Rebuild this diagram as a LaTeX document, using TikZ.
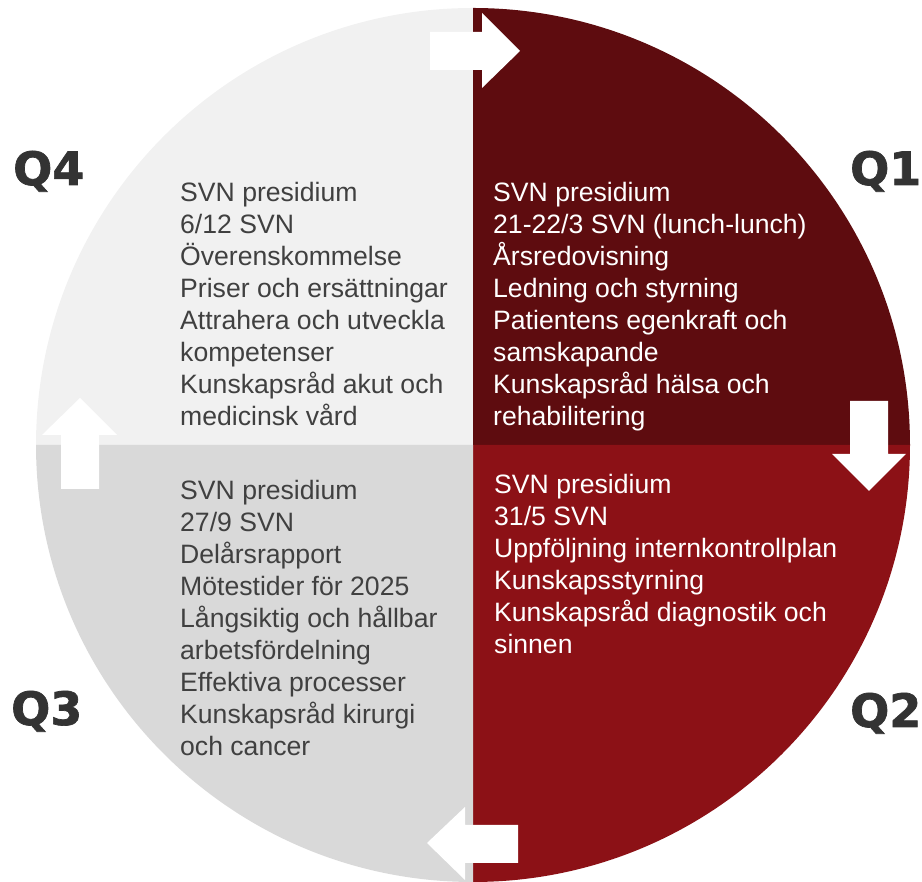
\documentclass[tikz,border=0pt]{standalone}
\usepackage{fontspec}
\setmainfont{Liberation Sans}
\newfontfamily\qfont[FakeBold=1.5]{DejaVu Sans}
\usetikzlibrary{positioning}
\definecolor{qone}{HTML}{5E0C0F}
\definecolor{qtwo}{HTML}{8C1116}
\definecolor{qthree}{HTML}{D9D9D9}
\definecolor{qfour}{HTML}{F1F1F1}
\definecolor{qdark}{HTML}{333333}
\definecolor{qtxt}{HTML}{404040}
\tikzset{
  qlabel/.style={ font=\qfont\bfseries\fontsize{46}{54}\selectfont, text=qdark, inner sep=0pt, anchor=base west }
}
\tikzset{
  qtext/.style={ font=\fontsize{26.6}{32}\selectfont, align=left, inner sep=0pt, anchor=north west }
}
\tikzset{
  turn/.style={ fill=white, draw=none }
}
\begin{document}
\begin{tikzpicture}[x=1pt, y=1pt]
      \useasboundingbox (0,0) rectangle (922,882);
      \coordinate (c) at (473,437);

      % the four quarters
      \fill[qfour] (c) -- ++(0,437) arc (90:180:437) -- cycle;
      \fill[qone] (c) -- ++(0,437) arc (90:0:437) -- cycle;
      \fill[qtwo] (c) -- ++(437,0) arc (0:-90:437) -- cycle;
      \fill[qthree] (c) -- ++(0,-437) arc (-90:-180:437) -- cycle;

      % arrows between the quarters
      \fill[turn] (430,812) -- (482,812) -- (482,794) -- (520,831) -- (482,869) -- (482,850) -- (430,850) -- cycle;
      \fill[turn] (850,481) -- (888,481) -- (888,428) -- (906,428) -- (869,391) -- (832,428) -- (850,428) -- cycle;
      \fill[turn] (518,57) -- (465,57) -- (465,75) -- (427,39) -- (465,2) -- (465,19) -- (518,19) -- cycle;
      \fill[turn] (61,393) -- (99,393) -- (99,447) -- (117,447) -- (80,484) -- (42,447) -- (61,447) -- cycle;

      \node[qlabel] (Q4) at (13,697) {Q4};
      \node[qlabel] (Q1) at (850,697) {Q1};
      \node[qlabel] (Q2) at (850,155) {Q2};
      \node[qlabel] (Q3) at (11,157) {Q3};

      \node[qtext, text=qtxt] (q4text) at (180,700) {SVN presidium\\6/12 SVN\\Överenskommelse\\Priser och ersättningar\\Attrahera och utveckla\\kompetenser\\Kunskapsråd akut och\\medicinsk vård};
      \node[qtext, text=white] (q1text) at (493,700) {SVN presidium\\21-22/3 SVN (lunch-lunch)\\Årsredovisning\\Ledning och styrning\\Patientens egenkraft och\\samskapande\\Kunskapsråd hälsa och\\rehabilitering};
      \node[qtext, text=white] (q2text) at (494,408) {SVN presidium\\31/5 SVN\\Uppföljning internkontrollplan\\Kunskapsstyrning\\Kunskapsråd diagnostik och\\sinnen};
      \node[qtext, text=qtxt] (q3text) at (180,402) {SVN presidium\\27/9 SVN\\Delårsrapport\\Mötestider för 2025\\Långsiktig och hållbar\\arbetsfördelning\\Effektiva processer\\Kunskapsråd kirurgi\\och cancer};
\end{tikzpicture}
\end{document}
